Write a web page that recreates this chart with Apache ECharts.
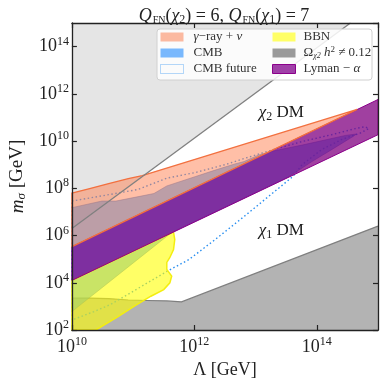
<!DOCTYPE html>
<html>
<head>
<meta charset="utf-8">
<script src="https://cdn.jsdelivr.net/npm/echarts@6/dist/echarts.min.js"></script>
<style>
  html, body { margin: 0; padding: 0; background: #fff; }
  #chart { width: 385px; height: 384px; }
</style>
</head>
<body>
<div id="chart"></div>
<script>
// all values are log10(Lambda / GeV), log10(m_sigma / GeV)
const xTicks = [10, 12, 14];
const yTicks = [2, 4, 6, 8, 10, 12, 14];

// light grey excluded wedge (top left), boundary line
const wedgeLine = [[10, 6.3], [14.55, 15]];

// Omega h^2 != 0.12 boundary (region below)
const omegaEdge = [[10, 3.35], [10.29, 3.35], [10.6, 3.33], [10.92, 3.27], [11.23, 3.25],
  [11.55, 3.23], [11.79, 3.19], [15, 6.40]];

// Lyman-alpha band
const lymanUpper = [[10, 5.53], [15, 11.76]];
const lymanLower = [[10, 4.10], [15, 10.27]];

// gamma-ray + nu band
const gammaUpper = [[10, 7.80], [10.29, 7.99], [10.6, 8.20], [10.92, 8.41], [11.15, 8.54], [14.66, 11.34]];
const gammaLower = [[14.66, 11.34], [10, 5.53]];

// CMB excluded region
const cmbRegion = [[10, 2.78], [11.63, 6.13], [13.53, 8.47], [13.92, 9.13], [14.27, 9.68],
  [14.59, 10.19], [14.65, 10.30], [14.47, 10.24], [13.76, 9.83], [13.29, 9.58], [13.05, 9.41],
  [12.81, 9.13], [12.66, 9.03], [12.34, 8.77], [12.02, 8.50], [11.55, 8.10], [11.34, 7.78],
  [11.13, 7.67], [10.72, 7.46], [10.49, 7.46], [10, 7.18]];

// CMB future reach (dotted contour)
const cmbFuture = [[10, 7.46], [10.6, 7.73], [11.08, 7.95], [11.55, 8.43], [12.02, 8.67],
  [12.5, 9.0], [12.81, 9.26], [13.13, 9.51], [13.29, 9.64], [13.76, 9.98], [14.24, 10.27],
  [14.63, 10.53], [14.79, 10.61], [14.85, 10.53], [14.71, 10.34], [14.40, 10.06], [14.08, 9.64],
  [13.76, 9.0], [13.61, 8.50], [13.21, 7.65], [12.81, 6.80], [12.34, 5.83], [11.91, 4.98],
  [11.55, 4.48], [11.08, 3.76], [10.63, 3.08], [10.36, 2.78], [10, 2.42]];

// BBN region
const bbnRegion = [[10, 4.10], [11.66, 6.15], [11.68, 5.83], [11.66, 5.41], [11.60, 5.07],
  [11.55, 4.86], [11.55, 4.56], [11.63, 4.28], [11.60, 4.0], [11.50, 3.71], [11.29, 3.43],
  [11.02, 3.01], [10.76, 2.58], [10.39, 2.0], [10, 2.0]];

const regionLabels = [
  { value: [13.42, 11.2], text: '{c|χ}{s|2}{t| DM}' },
  { value: [13.42, 6.21], text: '{c|χ}{s|1}{t| DM}' }
];

const SERIF = 'Liberation Serif';

function polySeries(name, pts, style, z) {
  return {
    name: name,
    type: 'custom',
    z: z,
    silent: true,
    animation: false,
    itemStyle: { color: style.legend || style.fill },
    data: [pts[0]],
    renderItem: function (params, api) {
      return {
        type: 'polygon',
        shape: { points: pts.map(p => api.coord(p)) },
        style: {
          fill: style.fill || null,
          stroke: style.stroke || null,
          lineWidth: style.lineWidth || 1,
          lineDash: style.lineDash || null
        }
      };
    }
  };
}

function lineSeries(pts, style, z) {
  return {
    type: 'custom',
    z: z,
    silent: true,
    animation: false,
    data: [pts[0]],
    renderItem: function (params, api) {
      return {
        type: 'polyline',
        shape: { points: pts.map(p => api.coord(p)) },
        style: { stroke: style.stroke, lineWidth: style.lineWidth || 1, fill: null, lineDash: style.lineDash || null }
      };
    }
  };
}

const wedgeRegion = wedgeLine.concat([[10, 15]]);
const omegaRegion = omegaEdge.concat([[15, 2], [10, 2]]);
const lymanRegion = lymanUpper.concat(lymanLower.slice().reverse());
const gammaRegion = gammaUpper.concat(gammaLower);

const chart = echarts.init(document.getElementById('chart'), null, { renderer: 'canvas' });

const tickLabel = v => '{b|10}{s|' + v + '}';
const tickRich = {
  b: { fontFamily: SERIF, fontSize: 18, color: '#222' },
  s: { fontFamily: SERIF, fontSize: 12, color: '#222', padding: [0, 0, 10, 0] }
};

const legendRich = {
  t: { fontFamily: SERIF, fontSize: 13, color: '#333' },
  i: { fontFamily: SERIF, fontSize: 13, color: '#333', fontStyle: 'italic' },
  s: { fontFamily: SERIF, fontSize: 8, color: '#333', fontStyle: 'italic', padding: [6, 0, 0, 0] },
  p: { fontFamily: SERIF, fontSize: 9, color: '#333', padding: [0, 0, 7, 0] }
};
const legendText = {
  'γ−ray + ν': '{i|γ}{t|−ray + }{i|ν}',
  'CMB': '{t|CMB}',
  'CMB future': '{t|CMB future}',
  'BBN': '{t|BBN}',
  'Ω h² ≠ 0.12': '{t|Ω}{s|χ2}{t| }{i|h}{p|2}{t| ≠ 0.12}',
  'Lyman − α': '{t|Lyman − }{i|α}'
};

const dmRich = {
  c: { fontFamily: SERIF, fontSize: 17, fontStyle: 'italic', fill: '#1a1a1a' },
  t: { fontFamily: SERIF, fontSize: 17, fill: '#1a1a1a' },
  s: { fontFamily: SERIF, fontSize: 12, fill: '#1a1a1a', padding: [9, 0, 0, 0] }
};

const option = {
  animation: false,
  backgroundColor: '#fff',
  title: {
    text: '{q|Q}{f|FN}{t|(}{c|χ}{s|2}{t|) = 6, }{q|Q}{f|FN}{t|(}{c|χ}{s|1}{t|) = 7}',
    left: 219,
    textAlign: 'center',
    top: 2,
    textStyle: {
      fontWeight: 'normal',
      rich: {
        q: { fontFamily: SERIF, fontSize: 18, fontStyle: 'italic', fontWeight: 'normal', color: '#222' },
        c: { fontFamily: SERIF, fontSize: 18, fontStyle: 'italic', fontWeight: 'normal', color: '#222' },
        t: { fontFamily: SERIF, fontSize: 18, fontWeight: 'normal', color: '#222' },
        f: { fontFamily: SERIF, fontSize: 10, fontWeight: 'normal', color: '#222', padding: [7, 0, 0, 1] },
        s: { fontFamily: SERIF, fontSize: 12, fontWeight: 'normal', color: '#222', padding: [7, 0, 0, 0] }
      }
    }
  },
  grid: { left: 62, right: 7, top: 23, bottom: 54, containLabel: false },
  xAxis: [{
    type: 'value', min: 10, max: 15, interval: 2, z: 10,
    name: '{c|Λ} [GeV]', nameLocation: 'middle', nameGap: 28,
    nameTextStyle: { fontFamily: SERIF, fontSize: 18, color: '#222', rich: { c: { fontFamily: SERIF, fontSize: 18, color: '#222' } } },
    axisLine: { show: true, lineStyle: { color: '#222', width: 1.3 } },
    axisTick: { show: true, inside: true, length: 5, lineStyle: { color: '#222', width: 1.2 } },
    axisLabel: { formatter: tickLabel, rich: tickRich, margin: 6, showMaxLabel: false },
    splitLine: { show: false }
  }, {
    type: 'value', min: 10, max: 15, interval: 2, position: 'top', z: 10,
    axisLine: { show: true, lineStyle: { color: '#222', width: 1.3 } },
    axisTick: { show: true, inside: true, length: 5, lineStyle: { color: '#222', width: 1.2 } },
    axisLabel: { show: false }, splitLine: { show: false }
  }],
  yAxis: [{
    type: 'value', min: 2, max: 15, interval: 2, z: 10,
    name: '{i|m}{s|σ}{t| [GeV]}', nameLocation: 'middle', nameGap: 42, nameRotate: 90,
    nameTextStyle: {
      rich: {
        i: { fontFamily: SERIF, fontSize: 19, fontStyle: 'italic', color: '#222' },
        t: { fontFamily: SERIF, fontSize: 19, color: '#222' },
        s: { fontFamily: SERIF, fontSize: 13, fontStyle: 'italic', color: '#222', padding: [8, 0, 0, 0] }
      }
    },
    axisLine: { show: true, lineStyle: { color: '#222', width: 1.3 } },
    axisTick: { show: true, inside: true, length: 5, lineStyle: { color: '#222', width: 1.2 } },
    axisLabel: { formatter: tickLabel, rich: tickRich, margin: 3, showMaxLabel: false },
    splitLine: { show: false }
  }, {
    type: 'value', min: 2, max: 15, interval: 2, position: 'right', z: 10,
    axisLine: { show: true, lineStyle: { color: '#222', width: 1.3 } },
    axisTick: { show: true, inside: true, length: 5, lineStyle: { color: '#222', width: 1.2 } },
    axisLabel: { show: false }, splitLine: { show: false }
  }],
  graphic: {
    elements: [{
      type: 'rect', z: 20,
      shape: { x: 157, y: 29, width: 215, height: 51, r: 3 },
      style: { fill: 'rgba(255,255,255,0.85)', stroke: '#d0d0d0', lineWidth: 1 }
    }]
  },
  legend: [{
    orient: 'vertical', left: 160, top: 29, padding: 0, itemGap: 0, z: 30,
    itemWidth: 23, itemHeight: 9, selectedMode: false,
    formatter: n => legendText[n],
    textStyle: { lineHeight: 16, padding: [0, 0, 0, 5], rich: legendRich },
    data: [
      { name: 'γ−ray + ν', icon: 'rect', itemStyle: { color: '#fbb9a0', borderWidth: 0 } },
      { name: 'CMB', icon: 'rect', itemStyle: { color: '#79b8fd', borderWidth: 0 } },
      { name: 'CMB future', icon: 'rect', itemStyle: { color: 'rgba(255,255,255,0)', borderColor: '#6ab0f5', borderWidth: 1, borderType: 'dotted' } }
    ]
  }, {
    orient: 'vertical', left: 272, top: 29, padding: 0, itemGap: 0, z: 30,
    itemWidth: 23, itemHeight: 9, selectedMode: false,
    formatter: n => legendText[n],
    textStyle: { lineHeight: 16, padding: [0, 0, 0, 3], rich: legendRich },
    data: [
      { name: 'BBN', icon: 'rect', itemStyle: { color: '#ffff66', borderWidth: 0 } },
      { name: 'Ω h² ≠ 0.12', icon: 'rect', itemStyle: { color: '#9a9a9a', borderWidth: 0 } },
      { name: 'Lyman − α', icon: 'rect', itemStyle: { color: '#a041a8', borderColor: '#8b008b', borderWidth: 1 } }
    ]
  }],
  series: [
    polySeries('wedge', wedgeRegion, { fill: '#e5e5e5' }, 1),
    polySeries('Ω h² ≠ 0.12', omegaRegion, { fill: '#b3b3b3', legend: '#9a9a9a' }, 2),
    lineSeries(omegaEdge, { stroke: '#7f7f7f', lineWidth: 1.2 }, 2),
    polySeries('CMB', cmbRegion, { fill: 'rgba(30,144,255,0.6)', stroke: 'rgba(60,110,190,0.5)', lineWidth: 1 }, 3),
    polySeries('CMB future', cmbFuture, { stroke: '#2a8ff0', lineWidth: 1.4, lineDash: [1.5, 2.5] }, 3),
    polySeries('BBN', bbnRegion, { fill: 'rgba(255,255,0,0.6)', stroke: '#f4ee10', lineWidth: 1.5 }, 4),
    polySeries('Lyman − α', lymanRegion, { fill: 'rgba(128,0,128,0.75)', stroke: '#8b008b', lineWidth: 1 }, 5),
    polySeries('γ−ray + ν', gammaRegion, { fill: 'rgba(255,127,80,0.5)', stroke: '#f2703f', lineWidth: 1.3 }, 6),
    lineSeries(wedgeLine, { stroke: '#808080', lineWidth: 1.3 }, 7),
    {
      type: 'custom', z: 8, silent: true, animation: false,
      data: regionLabels.map(d => d.value),
      renderItem: function (params, api) {
        const p = api.coord([api.value(0), api.value(1)]);
        return {
          type: 'text', x: p[0], y: p[1],
          style: {
            text: regionLabels[params.dataIndex].text,
            align: 'center', verticalAlign: 'middle',
            fill: '#1a1a1a', rich: dmRich
          }
        };
      }
    }
  ]
};

chart.setOption(option);
</script>
</body>
</html>
